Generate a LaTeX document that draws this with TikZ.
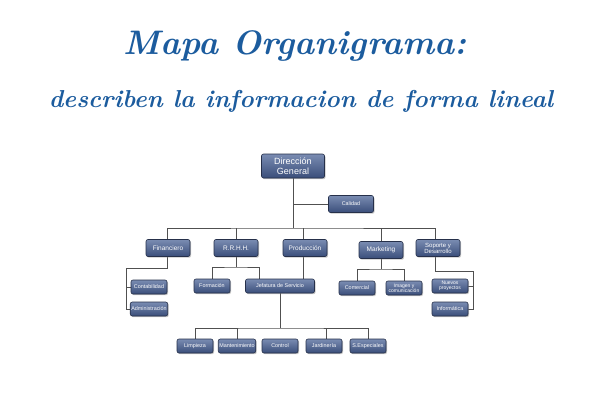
\documentclass[tikz,border=0pt]{standalone}
\usepackage{fontspec}
\setsansfont{Liberation Sans}
\usepackage{xcolor}
\usepackage{tikz}
\usetikzlibrary{
  positioning,
  calc,
  backgrounds,
  shadows
}
\definecolor{xtitle}{RGB}{28,92,158}
\definecolor{xtop}{RGB}{122,140,178}
\definecolor{xbottom}{RGB}{58,78,122}
\definecolor{xedge}{RGB}{38,48,74}
\definecolor{xline}{RGB}{80,80,80}

\begin{document}
\begin{tikzpicture}[x=1pt, y=-1pt,
  unit/.style={draw=xedge, top color=xtop, bottom color=xbottom, rounded corners=2pt,
               minimum width=#1, inner sep=1pt, text=white, align=center, line width=0.6pt,
               font=\sffamily\fontsize{5.4}{5.8}\selectfont,
               drop shadow={shadow xshift=1pt, shadow yshift=-1.2pt, fill=black!45, opacity=0.5}},
  unit/.default=36pt,
  small/.style={unit=36pt, minimum height=14pt},
  dept/.style={unit=44pt, minimum height=17pt, font=\sffamily\fontsize{6.5}{7}\selectfont},
  link/.style={draw=xline, line width=1pt},
  heading/.style={text=xtitle, font=\bfseries\itshape}
]
  \useasboundingbox (0,0) rectangle (600,400);

  % title
  \node[heading, font=\bfseries\itshape\fontsize{34}{38}\selectfont] (title) at (295,46) {Mapa Organigrama:};
  \node[heading, font=\bfseries\itshape\fontsize{24.5}{28}\selectfont] (subtitle) at (301,101) {describen la informacion de forma lineal};

  % top
  \node[unit=63pt, minimum height=24pt, font=\sffamily\fontsize{9}{9.5}\selectfont] (dg) at (293,166) {Dirección\\General};
  \node[unit=45pt, minimum height=17pt] (cal) at (351,204) {Calidad};

  % departments
  \node[dept] (fin)  at (168,248) {Financiero};
  \node[dept] (rrhh) at (236,248) {R.R.H.H.};
  \node[dept] (prod) at (305,248) {Producción};
  \node[dept] (mkt)  at (381,250) {Marketing};
  \node[dept, font=\sffamily\fontsize{6}{6}\selectfont] (sop) at (438,248) {Soporte y\\Desarrollo};

  % sections
  \node[small] (con) at (149,287) {Contabilidad};
  \node[small] (adm) at (149,309) {Administración};
  \node[small] (for) at (212,286) {Formación};
  \node[small, minimum width=69pt] (jef) at (280,286) {Jefatura de Servicio};
  \node[small] (com) at (357,288) {Comercial};
  \node[small, font=\sffamily\fontsize{5}{5}\selectfont] (img) at (404,288) {Imagen y\\comunicación};
  \node[small, font=\sffamily\fontsize{5}{5}\selectfont] (nue) at (450,286) {Nuevos\\proyectos};
  \node[small] (inf) at (450,309) {Informática};

  % services
  \node[small] (lim) at (195,346) {Limpieza};
  \node[small] (man) at (237,346) {Mantenimiento};
  \node[small] (ctl) at (280,346) {Control};
  \node[small] (jar) at (324,346) {Jardinería};
  \node[small] (esp) at (368,346) {S.Especiales};

  % connectors
  \coordinate (bus)    at (293,228);
  \coordinate (finbus) at (126,268);
  \coordinate (rrbus)  at (236,267);
  \coordinate (mkbus)  at (381,269);
  \coordinate (sobus)  at (473,271);
  \coordinate (jbus)   at (280,328);

  \begin{scope}[on background layer]
  \draw[link] (dg.south) -- (bus);
  \draw[link] (dg.south |- cal.west) -- (cal.west);
  \draw[link] ([xshift=-1pt]fin.north) |- (bus) -| ([xshift=-3pt]sop.north);
  \draw[link] (rrhh.north) -- (rrhh.north |- bus);
  \draw[link] ([xshift=-2pt]prod.north) -- ([xshift=-2pt]prod.north |- bus);
  \draw[link] (mkt.north) -- (mkt.north |- bus);

  \draw[link] ([xshift=-1pt]fin.south) |- (finbus) |- (adm.west);
  \draw[link] (finbus |- con.west) -- (con.west);

  \draw[link] (rrhh.south) -- (rrbus);
  \draw[link] (for.north) |- (rrbus) -| ([xshift=-21pt]jef.north);
  \draw[link] ([xshift=-2pt]prod.south) -- ([xshift=23pt]jef.north);

  \draw[link] (mkt.south) -- (mkbus);
  \draw[link] (com.north) |- (mkbus) -| (img.north);

  \draw[link] ([xshift=-3pt]sop.south) |- (sobus) |- (inf.east);
  \draw[link] (sobus |- nue.east) -- (nue.east);

  \draw[link] (jef.south) -- (jbus);
  \draw[link] (lim.north) |- (jbus) -| (esp.north);
  \draw[link] (man.north) -- (man.north |- jbus);
  \draw[link] ([xshift=2pt]jar.north) -- ([xshift=2pt]jar.north |- jbus);
  \end{scope}
\end{tikzpicture}
\end{document}
